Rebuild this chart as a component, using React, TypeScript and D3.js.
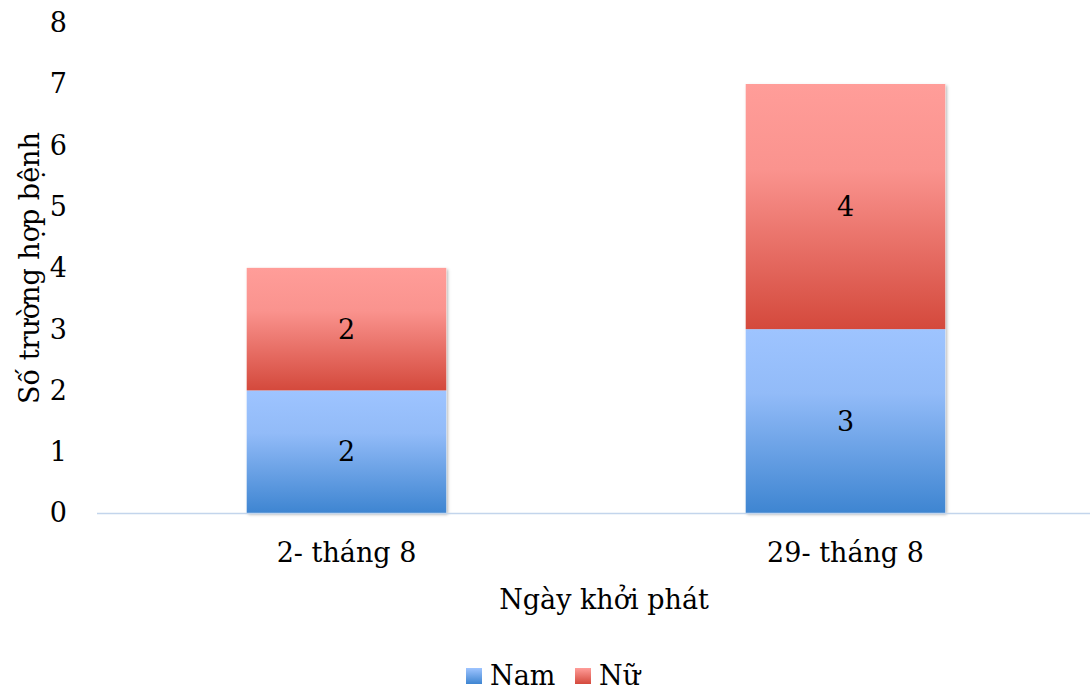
import React from "react";
import * as d3 from "d3";

const categories = ["2- tháng 8", "29- tháng 8"];
const namValues = [2, 3];
const nuValues = [2, 4];
const seriesNames = ["Nam", "Nữ"];
const yTicks = [0, 1, 2, 3, 4, 5, 6, 7, 8];

const W = 1092;
const H = 691;
const FONT = "'DejaVu Serif', serif";
const FS = 27;

export default function App() {
  const x = d3.scaleBand<string>().domain(categories).range([97, 1095]).paddingInner(0.6).paddingOuter(0.3);
  const y = d3.scaleLinear().domain([0, 8]).range([513, 22.7]);

  const stacked = d3.stack<any>().keys(["nam", "nu"])(
    categories.map((c, i) => ({ cat: c, nam: namValues[i], nu: nuValues[i] }))
  );
  const fills = ["url(#gBlue)", "url(#gRed)"];

  return (
    <svg width={W} height={H} style={{ position: "absolute", left: 0, top: 0, background: "#fff" }}>
      <defs>
        <linearGradient id="gBlue" x1="0" y1="0" x2="0" y2="1">
          <stop offset="0" stopColor="#9ec4ff" />
          <stop offset="0.35" stopColor="#92bbf8" />
          <stop offset="1" stopColor="#3e85d1" />
        </linearGradient>
        <linearGradient id="gRed" x1="0" y1="0" x2="0" y2="1">
          <stop offset="0" stopColor="#ff9d99" />
          <stop offset="0.35" stopColor="#fa938e" />
          <stop offset="1" stopColor="#d4493c" />
        </linearGradient>
        <linearGradient id="lBlue" x1="0" y1="0" x2="0" y2="1">
          <stop offset="0" stopColor="#9ec4ff" />
          <stop offset="1" stopColor="#3e85d1" />
        </linearGradient>
        <linearGradient id="lRed" x1="0" y1="0" x2="0" y2="1">
          <stop offset="0" stopColor="#ff9d99" />
          <stop offset="1" stopColor="#d4493c" />
        </linearGradient>
        <filter id="shadow" x="-10%" y="-10%" width="125%" height="125%">
          <feDropShadow dx="1.5" dy="1.5" stdDeviation="1.8" floodColor="#000" floodOpacity="0.3" />
        </filter>
      </defs>

      {/* y tick labels */}
      {yTicks.map((t) => (
        <text key={t} x={67} y={y(t)} dy="0.35em" textAnchor="end" fontFamily={FONT} fontSize={FS} fill="#000">
          {t}
        </text>
      ))}

      {/* y axis title */}
      <text
        transform={`translate(39, 268) rotate(-90)`}
        textAnchor="middle"
        fontFamily={FONT}
        fontSize={FS}
        fill="#000"
      >
        Số trường hợp bệnh
      </text>

      {/* bars: soft shadow behind each stack, then the segments */}
      {categories.map((c, i) => {
        const x0 = x(c)!;
        const bw = x.bandwidth();
        const yTop = y(namValues[i] + nuValues[i]);
        return (
          <rect key={"sh" + c} x={x0} y={yTop} width={bw} height={y(0) - yTop} fill="#fff" filter="url(#shadow)" />
        );
      })}
      {stacked.map((s, si) =>
        s.map((d, i) => (
          <rect
            key={si + "-" + i}
            x={x(categories[i])!}
            y={y(d[1])}
            width={x.bandwidth()}
            height={y(d[0]) - y(d[1])}
            fill={fills[si]}
          />
        ))
      )}
      {stacked.map((s, si) =>
        s.map((d, i) => (
          <text
            key={"l" + si + "-" + i}
            x={x(categories[i])! + x.bandwidth() / 2}
            y={(y(d[0]) + y(d[1])) / 2}
            dy="0.35em"
            textAnchor="middle"
            fontFamily={FONT}
            fontSize={FS}
            fill="#000"
          >
            {d[1] - d[0]}
          </text>
        ))
      )}

      {/* x axis line */}
      <line x1={97} x2={1090} y1={y(0) + 0.5} y2={y(0) + 0.5} stroke="#c3d5ec" strokeWidth={1.5} />

      {/* category labels */}
      {categories.map((c) => (
        <text
          key={c}
          x={x(c)! + x.bandwidth() / 2}
          y={553}
          dy="0.35em"
          textAnchor="middle"
          fontFamily={FONT}
          fontSize={FS}
          fill="#000"
        >
          {c}
        </text>
      ))}

      {/* x axis title */}
      <text x={604} y={600} dy="0.35em" textAnchor="middle" fontFamily={FONT} fontSize={FS} fill="#000">
        Ngày khởi phát
      </text>

      {/* legend */}
      <rect x={466} y={668} width={16} height={16} fill="url(#lBlue)" />
      <text x={490} y={685} fontFamily={FONT} fontSize={FS} fill="#000">
        {seriesNames[0]}
      </text>
      <rect x={575} y={668} width={16} height={16} fill="url(#lRed)" />
      <text x={599} y={685} fontFamily={FONT} fontSize={FS} fill="#000">
        {seriesNames[1]}
      </text>
    </svg>
  );
}
